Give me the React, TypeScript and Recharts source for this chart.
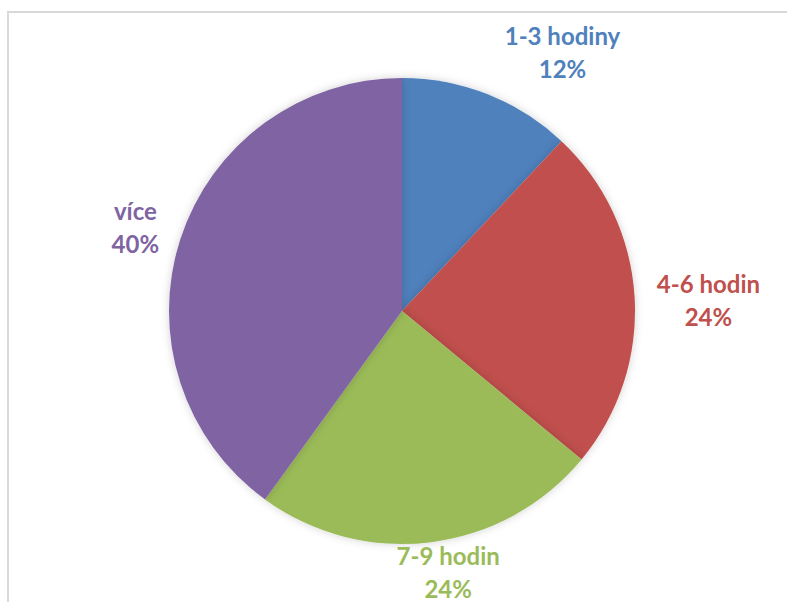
import { PieChart, Pie, Cell } from 'recharts';

const categories = ['1-3 hodiny', '4-6 hodin', '7-9 hodin', 'více'];
const shares = [12, 24, 24, 40];
const colors = ['#4F81BD', '#C0504D', '#9BBB59', '#8064A2'];

const data = categories.map((name, i) => ({ name, value: shares[i] }));

// Excel "best fit" places the labels a bit off the mid angle
const LABEL_NUDGE: Record<string, [number, number]> = {
  '1-3 hodiny': [60, -5],
  '4-6 hodin': [34, 7],
  '7-9 hodin': [12, -9],
  'více': [-7, 1],
};

const RADIAN = Math.PI / 180;

function renderLabel(props: any) {
  const { cx, cy, midAngle, outerRadius, index, percent } = props;
  const name = categories[index];
  const r = outerRadius + 40;
  const [nx, ny] = LABEL_NUDGE[name] || [0, 0];
  const x = cx + r * Math.cos(-midAngle * RADIAN) + nx;
  const y = cy + r * Math.sin(-midAngle * RADIAN) + ny;
  return (
    <text
      x={x}
      y={y}
      fill={colors[index]}
      textAnchor="middle"
      fontFamily="Lato, 'Open Sans', sans-serif"
      fontWeight={700}
      fontSize={24}
    >
      <tspan x={x} y={y - 17} dominantBaseline="central">{name}</tspan>
      <tspan x={x} y={y + 16} dominantBaseline="central">{`${Math.round(percent * 100)}%`}</tspan>
    </text>
  );
}

export default function App() {
  return (
    <div style={{ position: 'absolute', left: 0, top: 0, width: 787, height: 602, overflow: 'hidden', background: '#fff' }}>
      <div
        style={{
          position: 'absolute',
          left: 7,
          top: 11,
          width: 820,
          height: 640,
          borderLeft: '2px solid #d9d9d9',
          borderTop: '2px solid #d9d9d9',
        }}
      />
      <div style={{ position: 'absolute', left: 0, top: 0 }}>
        <PieChart width={787} height={602} margin={{ top: 0, right: 0, bottom: 0, left: 0 }}>
          <defs>
            <filter id="pieShadow" x="-10%" y="-10%" width="120%" height="120%">
              <feDropShadow dx="0" dy="0" stdDeviation="4" floodColor="#000" floodOpacity="0.18" />
            </filter>
          </defs>
          <Pie
            data={data}
            dataKey="value"
            nameKey="name"
            cx={402}
            cy={311}
            outerRadius={233}
            startAngle={90}
            endAngle={-270}
            stroke="none"
            label={renderLabel}
            labelLine={false}
            isAnimationActive={false}
            style={{ filter: 'url(#pieShadow)' }}
          >
            {data.map((entry, i) => (
              <Cell key={entry.name} fill={colors[i]} />
            ))}
          </Pie>
        </PieChart>
      </div>
    </div>
  );
}
